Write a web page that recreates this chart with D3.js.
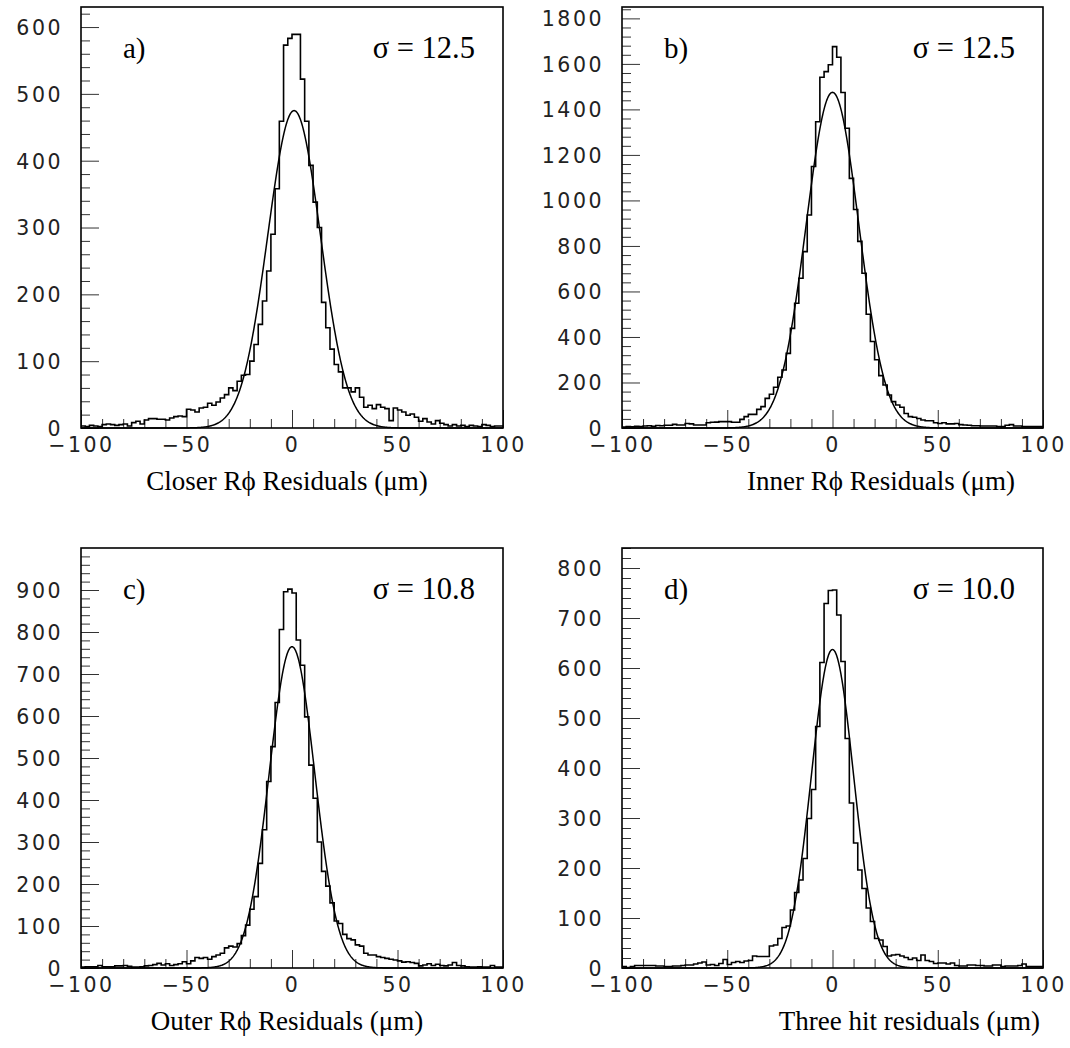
<!DOCTYPE html>
<html><head><meta charset="utf-8">
<script src="https://cdn.jsdelivr.net/npm/d3@7"></script>
<style>body{margin:0;background:#fff}</style>
</head><body>
<svg id="chart" width="1070" height="1048"></svg>
<script>
// ---------- data ----------
const binStart = -100, binWidth = 2;           // histogram binning (100 bins)
const xTickValues = [-100, -50, 0, 50, 100];
const panelLabels = ["a)", "b)", "c)", "d)"];
const sigmaLabels = ["σ = 12.5", "σ = 12.5", "σ = 10.8", "σ = 10.0"];
const xTitles = ["Closer Rϕ Residuals (μm)", "Inner Rϕ Residuals (μm)", "Outer Rϕ Residuals (μm)", "Three hit residuals (μm)"];
const yMaxes = [630, 1850, 1000, 840];
const yMajorSteps = [100, 200, 100, 100];
const yMinorSteps = [20, 40, 20, 20];
const yTopTick = [600, 1800, 900, 800];
// Gaussian fit parameters (amplitude, mean, sigma)
const fitAmp = [475, 1475, 765, 637];
const fitMean = [1, 0, 0, 0];
const fitSigma = [12.5, 12.5, 10.8, 10.0];

const countsA = [
 3,2,4,3,2,5,6,5,4,5,
 6,3,8,10,6,12,14,14,13,13,
 12,15,17,18,17,28,27,24,30,31,
 37,34,39,45,50,60,56,70,79,80,
 100,125,155,190,235,290,358,459,573,583,
 589,589,522,459,393,338,300,188,150,118,
 95,84,60,60,54,60,46,31,34,29,
 35,31,29,11,30,27,24,19,21,16,
 10,14,9,6,11,7,5,3,5,3,
 4,2,4,3,2,5,4,2,3,3];
const countsB = [
 4,6,5,7,6,9,10,8,11,10,
 12,12,16,13,13,20,18,13,13,13,
 23,25,26,28,28,28,25,25,38,50,
 60,60,82,94,130,148,179,223,255,328,
 438,548,658,775,936,1149,1346,1541,1566,1596,
 1676,1629,1474,1317,1097,960,820,680,500,380,
 300,230,189,145,116,101,91,64,50,47,
 42,35,32,32,23,20,23,18,18,20,
 15,13,12,10,10,9,9,9,9,6,
 6,12,15,9,9,6,6,6,6,6];
const countsC = [
 2,3,3,3,6,3,3,3,5,5,
 6,4,2,2,3,5,6,8,11,7,
 10,6,8,10,15,10,17,25,23,25,
 21,27,31,35,48,52,50,58,77,102,
 140,170,249,329,444,527,632,806,896,902,
 893,781,721,598,483,404,300,230,195,155,
 112,106,80,70,67,55,52,35,31,31,
 27,25,23,21,19,17,14,15,13,11,
 5,7,10,6,9,6,5,7,13,6,
 5,3,2,2,3,2,2,6,2,2];
const countsD = [
 3,1,3,5,5,5,5,5,4,4,
 3,3,4,4,5,6,6,8,10,12,
 6,7,5,9,17,7,11,13,11,14,
 15,24,23,23,23,44,46,59,81,84,
 116,151,176,219,299,357,483,611,729,755,
 756,706,613,459,330,250,196,159,120,93,
 59,56,43,24,26,27,24,21,17,20,
 15,26,15,13,9,10,10,8,10,5,
 4,4,6,6,5,5,4,4,6,6,
 3,4,4,4,5,8,3,3,3,3];
const allCounts = [countsA, countsB, countsC, countsD];

// ---------- layout ----------
const panels = [
  {l: 81,  r: 503,  t: 7,   b: 428},
  {l: 622, r: 1043, t: 7,   b: 428},
  {l: 81,  r: 503,  t: 548, b: 968},
  {l: 622, r: 1043, t: 548, b: 968}
];
const titlePos = [
  {x: 287, y: 490, anchor: "middle"}, {x: 1015, y: 490, anchor: "end"},
  {x: 287, y: 1030, anchor: "middle"}, {x: 1040, y: 1030, anchor: "end"}
];

const svg = d3.select("#chart");
svg.append("rect").attr("width", 1070).attr("height", 1048).attr("fill", "#fff");

const tickFont = "'DejaVu Sans', sans-serif";
const serif = "'Liberation Serif', 'Times New Roman', serif";

panels.forEach((p, k) => {
  const x = d3.scaleLinear().domain([-100, 100]).range([p.l, p.r]);
  const y = d3.scaleLinear().domain([0, yMaxes[k]]).range([p.b, p.t]);
  const g = svg.append("g");

  const styleLabels = a => a.selectAll("text").attr("font-family", tickFont).attr("font-size", 20.5)
        .attr("letter-spacing", "2.5px").attr("fill", "#222");

  // minor x ticks
  const xMinor = d3.range(-90, 100, 10).filter(v => v % 50 !== 0);
  g.append("g").attr("transform", `translate(0,${p.b})`)
    .call(d3.axisBottom(x).tickValues(xMinor).tickSize(-9).tickFormat(""))
    .call(a => a.select(".domain").remove())
    .call(a => a.selectAll("line").attr("stroke", "#333").attr("stroke-width", 1));
  // major x ticks + labels
  g.append("g").attr("transform", `translate(0,${p.b})`)
    .call(d3.axisBottom(x).tickValues(xTickValues).tickSize(-18).tickPadding(9).tickFormat(d3.format("d")))
    .call(a => a.select(".domain").remove())
    .call(a => a.selectAll("line").attr("stroke", "#333").attr("stroke-width", 1))
    .call(styleLabels);

  // minor y ticks
  const yMinor = d3.range(0, yMaxes[k] + 0.001, yMinorSteps[k]).filter(v => v % yMajorSteps[k] !== 0);
  g.append("g").attr("transform", `translate(${p.l},0)`)
    .call(d3.axisLeft(y).tickValues(yMinor).tickSize(-9).tickFormat(""))
    .call(a => a.select(".domain").remove())
    .call(a => a.selectAll("line").attr("stroke", "#333").attr("stroke-width", 1));
  const yMajor = d3.range(0, yTopTick[k] + 1, yMajorSteps[k]);
  g.append("g").attr("transform", `translate(${p.l},0)`)
    .call(d3.axisLeft(y).tickValues(yMajor).tickSize(-18).tickPadding(18).tickFormat(d3.format("d")))
    .call(a => a.select(".domain").remove())
    .call(a => a.selectAll("line").attr("stroke", "#333").attr("stroke-width", 1))
    .call(styleLabels)
    .call(a => a.selectAll("text").attr("dy", "0.36em"));

  // histogram outline
  const counts = allCounts[k];
  const edges = counts.map((c, i) => binStart + i * binWidth);
  let d = `M${x(edges[0])},${y(counts[0])}`;
  counts.forEach((c, i) => {
    if (i > 0) d += `V${y(c)}`;
    d += `H${x(edges[i] + binWidth)}`;
  });
  g.append("path").attr("d", d).attr("fill", "none").attr("stroke", "#000").attr("stroke-width", 1.6);

  // gaussian fit curve
  const xs = d3.range(-100, 100.01, 0.25);
  const line = d3.line()
    .x(v => x(v))
    .y(v => y(fitAmp[k] * Math.exp(-((v - fitMean[k]) ** 2) / (2 * fitSigma[k] ** 2))));
  g.append("path").attr("d", line(xs)).attr("fill", "none").attr("stroke", "#000").attr("stroke-width", 1.5);

  // frame
  g.append("rect").attr("x", p.l).attr("y", p.t).attr("width", p.r - p.l).attr("height", p.b - p.t)
    .attr("fill", "none").attr("stroke", "#000").attr("stroke-width", 1.6);

  // labels
  g.append("text").attr("x", p.l + 42).attr("y", p.t + 51).text(panelLabels[k])
    .attr("font-family", serif).attr("font-size", 29).attr("fill", "#000");
  g.append("text").attr("x", p.r - 28).attr("y", p.t + 51).attr("text-anchor", "end").text(sigmaLabels[k])
    .attr("font-family", serif).attr("font-size", 30.5).attr("fill", "#000");
  g.append("text").attr("x", titlePos[k].x).attr("y", titlePos[k].y).attr("text-anchor", titlePos[k].anchor)
    .text(xTitles[k]).attr("font-family", serif).attr("font-size", 27).attr("fill", "#000");
});
</script>
</body></html>
